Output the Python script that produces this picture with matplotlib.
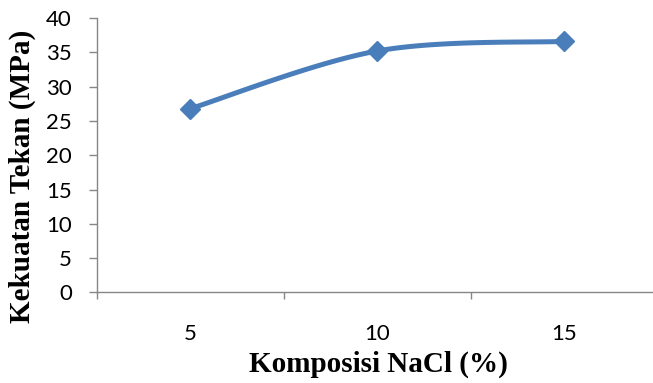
import numpy as np
import matplotlib.pyplot as plt

# Data: compressive strength vs NaCl composition
komposisi = ["5", "10", "15"]
kekuatan = [26.8, 35.2, 36.6]

line_color = "#4A7EBB"
axis_color = "#868686"


def smooth_curve(xs, ys, n=40):
    """Bezier smoothing through points (Catmull-Rom style control points)."""
    pts = np.column_stack([xs, ys]).astype(float)
    ext = np.vstack([pts[0], pts, pts[-1]])
    out = []
    for i in range(1, len(ext) - 2):
        p0, p1, p2, p3 = ext[i - 1], ext[i], ext[i + 1], ext[i + 2]
        c1 = p1 + (p2 - p0) / 6.0
        c2 = p2 - (p3 - p1) / 6.0
        t = np.linspace(0, 1, n)[:, None]
        seg = ((1 - t) ** 3) * p1 + 3 * ((1 - t) ** 2) * t * c1 \
            + 3 * (1 - t) * t ** 2 * c2 + t ** 3 * p2
        out.append(seg)
    curve = np.vstack(out)
    return curve[:, 0], curve[:, 1]


fig = plt.figure(figsize=(6.53, 3.83), dpi=100)
ax = fig.add_axes([0.1485, 0.2363, 0.8591, 0.7167])

x = np.arange(1, len(komposisi) + 1)
cx, cy = smooth_curve(x, kekuatan)
ax.plot(cx, cy, color=line_color, linewidth=3.6, solid_capstyle="round", zorder=2)
ax.plot(x, kekuatan, linestyle="none", marker="D", markersize=10,
        color=line_color, zorder=3)

ax.set_xlim(0.5, len(komposisi) + 0.5)
ax.set_ylim(0, 40)
ax.set_yticks(np.arange(0, 41, 5))

# tick marks between categories, labels at category centres
ax.set_xticks(np.arange(0.5, len(komposisi) + 1, 1.0))
ax.set_xticklabels([])
ax.set_xticks(x, minor=True)
ax.set_xticklabels(komposisi, minor=True)

for s in ["top", "right"]:
    ax.spines[s].set_visible(False)
for s in ["left", "bottom"]:
    ax.spines[s].set_color(axis_color)
    ax.spines[s].set_linewidth(1.0)

ax.tick_params(axis="y", which="major", direction="out", length=6, width=1,
               color=axis_color, pad=12, labelsize=16, labelcolor="black")
ax.tick_params(axis="x", which="major", direction="out", length=5, width=1,
               color=axis_color)
ax.tick_params(axis="x", which="minor", length=0, pad=23, labelsize=16)
for lbl in ax.get_yticklabels() + ax.get_xticklabels(minor=True):
    lbl.set_fontfamily("Lato")

fig.text(378 / 653, 1 - 364 / 383, "Komposisi NaCl (%)", ha="center", va="center",
         fontsize=21, fontweight="bold", family="Liberation Serif")
fig.text(22 / 653, 1 - 176 / 383, "Kekuatan Tekan (MPa)", ha="center", va="center",
         rotation=90, fontsize=21, fontweight="bold", family="Liberation Serif")

fig.savefig("out.png", dpi=100)
